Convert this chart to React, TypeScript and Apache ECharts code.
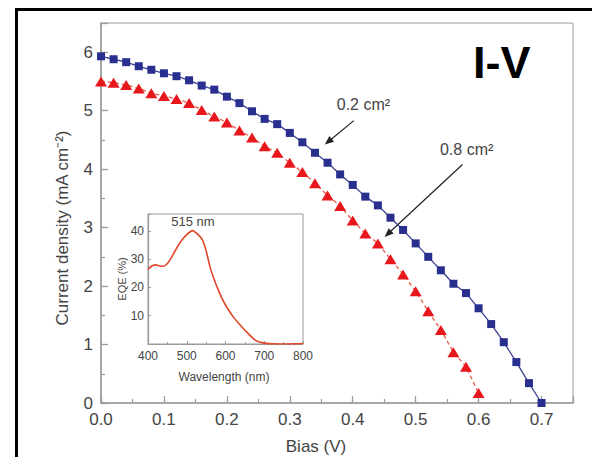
import React, { useEffect, useRef } from "react";
import * as echarts from "echarts";

// I-V curves for the two device areas (bias in V, current density in mA cm^-2)
const bias02 = [
  0, 0.02, 0.04, 0.06, 0.08, 0.1, 0.12, 0.14, 0.16, 0.18, 0.2, 0.22, 0.24, 0.26, 0.28, 0.3, 0.32, 0.34,
  0.36, 0.38, 0.4, 0.42, 0.44, 0.46, 0.48, 0.5, 0.52, 0.54, 0.56, 0.58, 0.6, 0.62, 0.64, 0.66, 0.68, 0.7,
];
const current02 = [
  5.93, 5.88, 5.83, 5.76, 5.7, 5.64, 5.59, 5.52, 5.43, 5.36, 5.24, 5.13, 4.99, 4.86, 4.77, 4.62, 4.46, 4.28,
  4.11, 3.91, 3.73, 3.53, 3.38, 3.17, 2.96, 2.73, 2.5, 2.27, 2.04, 1.88, 1.62, 1.35, 1.04, 0.7, 0.34, 0.0,
];
const bias08 = [
  0, 0.02, 0.04, 0.06, 0.08, 0.1, 0.12, 0.14, 0.16, 0.18, 0.2, 0.22, 0.24, 0.26, 0.28, 0.3, 0.32, 0.34,
  0.36, 0.38, 0.4, 0.42, 0.44, 0.46, 0.48, 0.5, 0.52, 0.54, 0.56, 0.58, 0.6,
];
const current08 = [
  5.5, 5.48, 5.44, 5.38, 5.3, 5.25, 5.2, 5.13, 5.01, 4.9, 4.8, 4.66, 4.54, 4.39, 4.28, 4.11, 3.95, 3.76,
  3.55, 3.37, 3.12, 2.9, 2.73, 2.46, 2.2, 1.91, 1.57, 1.25, 0.87, 0.62, 0.17,
];

// External quantum efficiency spectrum (inset)
const wavelength = [
  400, 410, 420, 430, 440, 450, 460, 470, 480, 490, 500, 510, 515, 520, 530, 540, 550, 560, 570, 580, 590,
  600, 620, 640, 660, 680, 700, 720, 740, 760, 780, 800,
];
const eqe = [
  26.4, 27.6, 28.0, 27.6, 27.5, 28.5, 30.5, 33.0, 35.3, 37.2, 38.7, 39.8, 40.1, 39.8, 38.6, 37.0, 33.0, 27.3,
  23.1, 19.6, 16.4, 13.8, 9.6, 6.4, 3.5, 1.1, 0.3, 0.05, 0, 0, 0.05, 0.2,
];

const FONT = "'Liberation Sans', Arial, Helvetica, sans-serif";
const AXIS_GREY = "#9a9a9a";
const TEXT_GREY = "#444";

const pairs = (xs: number[], ys: number[]) => xs.map((x, i) => [x, ys[i]]);
const isMultiple = (v: number, step: number) => Math.abs(v / step - Math.round(v / step)) < 1e-6;

export default function App() {
  const ref = useRef<HTMLDivElement>(null);

  useEffect(() => {
    const chart = echarts.init(ref.current!, null, { renderer: "svg" });

    chart.setOption({
      animation: false,
      backgroundColor: "#fff",
      grid: [
        { left: 101, top: 23, right: 19, bottom: 54, show: true, borderColor: AXIS_GREY, borderWidth: 1 },
        {
          left: 148, top: 214, width: 155, height: 130, show: true,
          borderColor: AXIS_GREY, borderWidth: 1, backgroundColor: "#fff",
        },
      ],
      xAxis: [
        {
          type: "value", gridIndex: 0, position: "bottom", min: 0, max: 0.75, interval: 0.1,
          axisLine: { lineStyle: { color: AXIS_GREY, width: 1.5 } },
          axisTick: { inside: true, length: 7, lineStyle: { color: AXIS_GREY, width: 1.2 } },
          axisLabel: {
            color: TEXT_GREY, fontFamily: FONT, fontSize: 17, margin: 8,
            formatter: (v: number) => (isMultiple(v, 0.1) && v < 0.74 ? v.toFixed(1) : ""),
          },
          splitLine: { show: false },
        },
        {
          type: "value", gridIndex: 0, position: "bottom", min: 0, max: 0.75, interval: 0.05,
          axisLine: { show: false },
          axisTick: { inside: true, length: 4, lineStyle: { color: AXIS_GREY, width: 1.2 } },
          axisLabel: { show: false },
          splitLine: { show: false },
        },
        {
          type: "value", gridIndex: 1, position: "bottom", min: 400, max: 800, interval: 100,
          axisLine: { lineStyle: { color: AXIS_GREY, width: 1.2 } },
          axisTick: { inside: true, length: 3, lineStyle: { color: AXIS_GREY } },
          minorTick: { show: true, splitNumber: 2, length: 2, lineStyle: { color: AXIS_GREY } },
          axisLabel: { color: TEXT_GREY, fontFamily: FONT, fontSize: 12, margin: 6 },
          splitLine: { show: false },
        },
      ],
      yAxis: [
        {
          type: "value", gridIndex: 0, position: "left", min: 0, max: 6.5, interval: 1,
          axisLine: { show: true, lineStyle: { color: AXIS_GREY, width: 1.5 } },
          axisTick: { show: true, inside: true, length: 7, lineStyle: { color: AXIS_GREY, width: 1.2 } },
          axisLabel: {
            color: TEXT_GREY, fontFamily: FONT, fontSize: 17, margin: 8,
            formatter: (v: number) => (isMultiple(v, 1) ? String(v) : ""),
          },
          splitLine: { show: false },
        },
        {
          type: "value", gridIndex: 0, position: "left", min: 0, max: 6.5, interval: 0.5,
          axisLine: { show: false },
          axisTick: { show: true, inside: true, length: 4, lineStyle: { color: AXIS_GREY, width: 1.2 } },
          axisLabel: { show: false },
          splitLine: { show: false },
        },
        {
          type: "value", gridIndex: 1, position: "left", min: 0, max: 46, interval: 10,
          axisLine: { show: true, lineStyle: { color: AXIS_GREY, width: 1.2 } },
          axisTick: { show: true, inside: true, length: 3, lineStyle: { color: AXIS_GREY } },
          axisLabel: {
            color: TEXT_GREY, fontFamily: FONT, fontSize: 12, margin: 4,
            formatter: (v: number) => (v > 0 && isMultiple(v, 10) ? String(v) : ""),
          },
          splitLine: { show: false },
        },
      ],
      series: [
        {
          name: "0.2 cm²", type: "line", xAxisIndex: 0, yAxisIndex: 0, clip: false,
          data: pairs(bias02, current02),
          symbol: "rect", symbolSize: 8,
          itemStyle: { color: "#282f8e" },
          lineStyle: { color: "#3a4290", width: 1.3 },
          z: 3,
        },
        {
          name: "0.8 cm²", type: "line", xAxisIndex: 0, yAxisIndex: 0, clip: false,
          data: pairs(bias08, current08),
          symbol: "triangle", symbolSize: [12, 10],
          itemStyle: { color: "#e8171c" },
          lineStyle: { color: "#e85a45", width: 1.3, type: [4, 3] },
          z: 3,
        },
        {
          name: "EQE", type: "line", xAxisIndex: 2, yAxisIndex: 2,
          data: pairs(wavelength, eqe),
          smooth: 0.3, symbol: "none",
          lineStyle: { color: "#e2472c", width: 1.6 },
        },
      ],
    });

    // Annotations anchored to data coordinates
    const main = (p: number[]) => chart.convertToPixel({ xAxisIndex: 0, yAxisIndex: 0 }, p) as number[];
    const inset = (p: number[]) => chart.convertToPixel({ xAxisIndex: 2, yAxisIndex: 2 }, p) as number[];

    const arrow = (tail: number[], tip: number[]) => {
      const dx = tip[0] - tail[0];
      const dy = tip[1] - tail[1];
      const len = Math.hypot(dx, dy);
      const ux = dx / len;
      const uy = dy / len;
      const headLen = 9;
      const headHalf = 3.6;
      const bx = tip[0] - ux * headLen;
      const by = tip[1] - uy * headLen;
      return [
        {
          type: "line",
          shape: { x1: tail[0], y1: tail[1], x2: bx + ux * 1, y2: by + uy * 1 },
          style: { stroke: "#222", lineWidth: 1.2 },
        },
        {
          type: "polygon",
          shape: {
            points: [
              [tip[0], tip[1]],
              [bx - uy * headHalf, by + ux * headHalf],
              [bx + uy * headHalf, by - ux * headHalf],
            ],
          },
          style: { fill: "#222" },
        },
      ];
    };

    const label02 = main([0.417, 5.1]);
    const label08 = main([0.581, 4.33]);
    const peak = inset([516, 43.4]);

    chart.setOption({
      graphic: [
        // outer frame
        { type: "line", shape: { x1: 16.5, y1: 8, x2: 16.5, y2: 457 }, style: { stroke: "#000", lineWidth: 3 } },
        { type: "line", shape: { x1: 15, y1: 9.5, x2: 592, y2: 9.5 }, style: { stroke: "#000", lineWidth: 3 } },
        {
          type: "text", x: 473, y: 62,
          style: {
            text: "I-V", font: `bold 45px ${FONT}`, fill: "#000",
            textAlign: "left", textVerticalAlign: "middle",
          },
        },
        {
          type: "text", x: label02[0], y: label02[1],
          style: {
            text: "0.2 cm²", font: `16px ${FONT}`, fill: TEXT_GREY,
            textAlign: "center", textVerticalAlign: "middle",
          },
        },
        {
          type: "text", x: label08[0], y: label08[1],
          style: {
            text: "0.8 cm²", font: `16px ${FONT}`, fill: TEXT_GREY,
            textAlign: "center", textVerticalAlign: "middle",
          },
        },
        ...arrow(main([0.4017, 4.83]), main([0.3556, 4.42])),
        ...arrow(main([0.5744, 4.08]), main([0.4506, 2.84])),
        // axis titles
        {
          type: "text", x: 316, y: 446,
          style: {
            text: "Bias (V)", font: `17px ${FONT}`, fill: TEXT_GREY,
            textAlign: "center", textVerticalAlign: "middle",
          },
        },
        {
          type: "text", x: 62, y: 228, rotation: Math.PI / 2,
          style: {
            text: "Current density (mA cm⁻²)", font: `17px ${FONT}`, fill: TEXT_GREY,
            textAlign: "center", textVerticalAlign: "middle",
          },
        },
        // inset texts
        {
          type: "text", x: peak[0], y: peak[1],
          style: {
            text: "515 nm", font: `13px ${FONT}`, fill: TEXT_GREY,
            textAlign: "center", textVerticalAlign: "middle",
          },
        },
        {
          type: "text", x: 224, y: 377,
          style: {
            text: "Wavelength (nm)", font: `12px ${FONT}`, fill: TEXT_GREY,
            textAlign: "center", textVerticalAlign: "middle",
          },
        },
        {
          type: "text", x: 122, y: 279, rotation: Math.PI / 2,
          style: {
            text: "EQE (%)", font: `11px ${FONT}`, fill: TEXT_GREY,
            textAlign: "center", textVerticalAlign: "middle",
          },
        },
      ],
    });

    return () => chart.dispose();
  }, []);

  return (
    <div
      ref={ref}
      style={{ position: "fixed", left: 0, top: 0, width: 592, height: 457, background: "#fff" }}
    />
  );
}
